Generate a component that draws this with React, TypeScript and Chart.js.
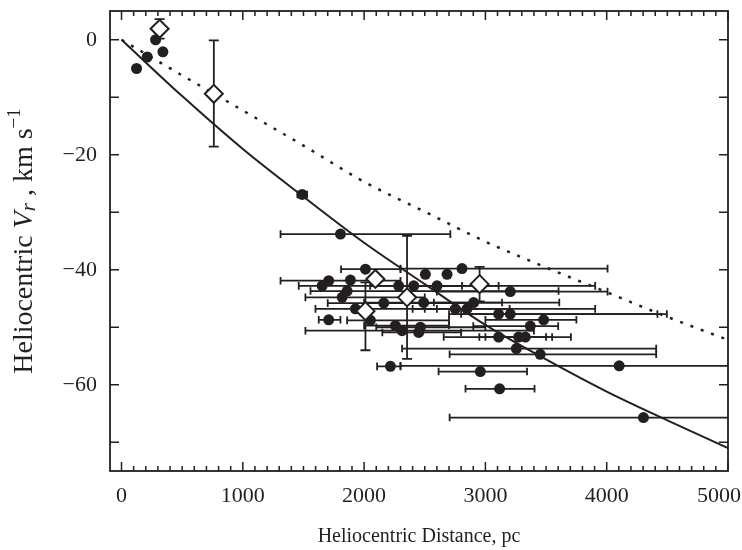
import React, { useEffect, useRef } from 'react';
import { Chart, registerables } from 'chart.js';

Chart.register(...registerables);

const INK = '#231f20';
const FONT = '"Liberation Serif", "Times New Roman", serif';
const FONT_SIZE = 22;
const XTITLE_SIZE = 20;
const YTITLE_SIZE = 28;

// axis ranges and ticks
const X_MIN = -95;
const X_MAX = 5000;
const Y_MIN = -75;
const Y_MAX = 5;
const xTickLabels = [0, 1000, 2000, 3000, 4000, 5000];
const X_MAJOR = 1000;
const X_MINOR = 100;
const yTickValues = [0, -10, -20, -30, -40, -50, -60, -70];
const yLabelled = [0, -20, -40, -60];

// model curves
const modelX = [0, 500, 1000, 1500, 2000, 2500, 3000, 3500, 4000, 4500, 5000];
const solidY = [0, -9.8, -19, -27.3, -35.3, -42.5, -49.6, -55.6, -61.2, -66.2, -71];
const dottedY = [0, -6.2, -12.3, -18.4, -24.7, -29.9, -35.1, -39.6, -43.9, -48.2, -52.2];

// filled circles with horizontal (distance) error bars
const circleX = [124, 212, 281, 341, 1489, 1805, 2011, 2807, 1708, 1887, 2505, 2684, 1654, 2285, 2409, 2601, 3205, 1860, 1819, 2162, 2491, 2903, 1928, 2752, 2848, 3109, 3205, 3480, 1708, 2052, 3370, 2258, 2464, 2313, 2450, 3109, 3274, 3329, 3255, 3452, 2217, 4103, 2958, 3117, 4303];
const circleY = [-5, -3, 0, -2.1, -26.9, -33.8, -39.9, -39.8, -41.9, -41.8, -40.8, -40.8, -42.8, -42.8, -42.8, -42.8, -43.8, -43.7, -44.8, -45.8, -45.7, -45.7, -46.8, -46.8, -46.8, -47.7, -47.7, -48.7, -48.7, -48.8, -49.8, -49.7, -50, -50.6, -50.9, -51.7, -51.7, -51.7, -53.7, -54.7, -56.8, -56.7, -57.7, -60.7, -65.7];
const circleXLo = [null, null, null, null, 1450, 1311, 1810, 2300, 1311, null, null, null, 1461, null, 2050, 2300, 2600, 1558, 1516, 1700, 2000, 2575, 1599, 2400, 2500, 2700, 2800, 3000, 1626, 1860, 2900, 2000, 2100, 1516, 2150, 2656, 2950, 3000, 2313, 2705, 2107, 2300, 2614, 2836, 2705];
const circleXHi = [null, null, null, null, 1530, 2711, 2300, 4007, 2300, null, null, null, 2807, null, 3905, 3109, 4007, 3603, 2500, 2900, 3609, 3137, 2600, 3200, 3905, 4496, 4418, 3750, 1805, 2700, 3600, 2700, 3000, 3400, 2800, 3500, 3705, 3550, 4408, 4408, 2300, 5300, 3343, 3405, 5300];

// open diamonds with vertical (velocity) error bars
const diamondX = [314, 761, 2093, 2354, 2011, 2952];
const diamondY = [1.9, -9.4, -41.6, -44.8, -47.2, -42.5];
const diamondYLo = [0.2, -18.6, null, -55.5, -54, -45.5];
const diamondYHi = [3.6, -0.1, null, -34.1, -42.2, -39.5];

const fmt = (v: number) => (v < 0 ? '\u2212' + Math.abs(v) : String(v));

const errorBarPlugin = {
  id: 'errorBars',
  beforeDatasetsDraw(chart: any) {
    const { ctx, chartArea: a } = chart;
    const xs = chart.scales.x;
    const ys = chart.scales.y;
    ctx.save();
    ctx.beginPath();
    ctx.rect(a.left, a.top, a.right - a.left, a.bottom - a.top);
    ctx.clip();
    ctx.strokeStyle = INK;
    ctx.lineWidth = 1.8;
    const cap = 3.8;
    circleX.forEach((_, i) => {
      const lo = circleXLo[i];
      const hi = circleXHi[i];
      if (lo == null || hi == null) return;
      const py = ys.getPixelForValue(circleY[i]);
      const pa = xs.getPixelForValue(lo);
      const pb = xs.getPixelForValue(hi);
      ctx.beginPath();
      ctx.moveTo(pa, py);
      ctx.lineTo(pb, py);
      ctx.moveTo(pa, py - cap);
      ctx.lineTo(pa, py + cap);
      ctx.moveTo(pb, py - cap);
      ctx.lineTo(pb, py + cap);
      ctx.stroke();
    });
    const vcap = 5;
    diamondX.forEach((dx, i) => {
      const lo = diamondYLo[i];
      const hi = diamondYHi[i];
      if (lo == null || hi == null) return;
      const px = xs.getPixelForValue(dx);
      const pa = ys.getPixelForValue(lo);
      const pb = ys.getPixelForValue(hi);
      ctx.beginPath();
      ctx.moveTo(px, pa);
      ctx.lineTo(px, pb);
      ctx.moveTo(px - vcap, pa);
      ctx.lineTo(px + vcap, pa);
      ctx.moveTo(px - vcap, pb);
      ctx.lineTo(px + vcap, pb);
      ctx.stroke();
    });
    ctx.restore();
  },
};

const decorPlugin = {
  id: 'decor',
  afterDraw(chart: any) {
    const { ctx, chartArea: a } = chart;
    const xs = chart.scales.x;
    const ys = chart.scales.y;
    ctx.save();
    ctx.strokeStyle = INK;
    ctx.lineWidth = 1.8;
    ctx.strokeRect(a.left, a.top, a.right - a.left, a.bottom - a.top);

    ctx.lineWidth = 1.5;
    ctx.beginPath();
    for (let v = 0; v <= X_MAX; v += X_MINOR) {
      const px = xs.getPixelForValue(v);
      if (px < a.left || px > a.right) continue;
      const len = v % X_MAJOR === 0 ? 9 : 5;
      ctx.moveTo(px, a.bottom);
      ctx.lineTo(px, a.bottom - len);
      ctx.moveTo(px, a.top);
      ctx.lineTo(px, a.top + len);
    }
    yTickValues.forEach((v) => {
      const py = ys.getPixelForValue(v);
      ctx.moveTo(a.left, py);
      ctx.lineTo(a.left + 9, py);
      ctx.moveTo(a.right, py);
      ctx.lineTo(a.right - 9, py);
    });
    ctx.stroke();

    // x tick labels
    ctx.fillStyle = INK;
    ctx.font = `${FONT_SIZE}px ${FONT}`;
    ctx.textAlign = 'center';
    ctx.textBaseline = 'middle';
    xTickLabels.forEach((v) => {
      const label = fmt(v);
      const w = ctx.measureText(label).width;
      let px = xs.getPixelForValue(v);
      if (px + w / 2 > chart.width - 1) px = chart.width - 1 - w / 2;
      ctx.fillText(label, px, a.bottom + 25);
    });

    // x title
    ctx.font = `${XTITLE_SIZE}px ${FONT}`;
    ctx.fillText('Heliocentric Distance, pc', (a.left + a.right) / 2, a.bottom + 66);

    // y title (rotated, mixed styles)
    const parts = [
      { t: 'Heliocentric ', f: `${YTITLE_SIZE}px ${FONT}`, dy: 0 },
      { t: 'V', f: `italic ${YTITLE_SIZE}px ${FONT}`, dy: 0 },
      { t: 'r', f: `italic ${YTITLE_SIZE - 7}px ${FONT}`, dy: 4 },
      { t: ' , km s', f: `${YTITLE_SIZE}px ${FONT}`, dy: 0 },
      { t: '\u22121', f: `${YTITLE_SIZE - 9}px ${FONT}`, dy: -10 },
    ];
    let total = 0;
    parts.forEach((p) => {
      ctx.font = p.f;
      total += ctx.measureText(p.t).width;
    });
    ctx.translate(25, 241);
    ctx.rotate(-Math.PI / 2);
    ctx.textAlign = 'left';
    let cx = -total / 2;
    parts.forEach((p) => {
      ctx.font = p.f;
      ctx.fillText(p.t, cx, p.dy);
      cx += ctx.measureText(p.t).width;
    });
    ctx.restore();
  },
};

export default function App() {
  const ref = useRef<HTMLCanvasElement>(null);
  useEffect(() => {
    if (!ref.current) return;
    const chart = new Chart(ref.current, {
      type: 'scatter',
      data: {
        datasets: [
          {
            label: 'diamonds',
            data: diamondX.map((x, i) => ({ x, y: diamondY[i] })),
            pointStyle: 'rectRot',
            pointRadius: 9,
            backgroundColor: '#ffffff',
            borderColor: INK,
            borderWidth: 2,
          },
          {
            label: 'circles',
            data: circleX.map((x, i) => ({ x, y: circleY[i] })),
            pointStyle: 'circle',
            pointRadius: 5.5,
            backgroundColor: INK,
            borderColor: INK,
            borderWidth: 0,
          },
          {
            type: 'line',
            label: 'solid',
            data: modelX.map((x, i) => ({ x, y: solidY[i] })),
            borderColor: INK,
            borderWidth: 2,
            pointRadius: 0,
            cubicInterpolationMode: 'monotone',
            fill: false,
          },
          {
            type: 'line',
            label: 'dotted',
            data: modelX.map((x, i) => ({ x, y: dottedY[i] })),
            borderColor: INK,
            borderWidth: 2.5,
            borderDash: [3, 8],
            pointRadius: 0,
            cubicInterpolationMode: 'monotone',
            fill: false,
          },
        ] as any,
      },
      options: {
        responsive: false,
        animation: false,
        layout: { padding: { left: 0, right: 14, top: 9, bottom: 0 } },
        plugins: { legend: { display: false }, tooltip: { enabled: false } },
        scales: {
          x: {
            type: 'linear',
            min: X_MIN,
            max: X_MAX,
            grid: { display: false, drawTicks: false },
            border: { display: false },
            ticks: { display: false, stepSize: X_MAJOR },
            afterFit: (s: any) => {
              s.height = 79;
              s.paddingLeft = 0;
              s.paddingRight = 0;
            },
          },
          y: {
            type: 'linear',
            min: Y_MIN,
            max: Y_MAX,
            grid: { display: false, drawTicks: false },
            border: { display: false },
            afterBuildTicks: (s: any) => {
              s.ticks = yTickValues.map((v) => ({ value: v }));
            },
            ticks: {
              autoSkip: false,
              padding: 13,
              color: INK,
              font: { family: FONT, size: FONT_SIZE },
              callback: (v: any) => (yLabelled.includes(Number(v)) ? fmt(Number(v)) : ''),
            },
            afterFit: (s: any) => {
              s.width = 110;
              s.paddingTop = 0;
              s.paddingBottom = 0;
            },
          },
        },
      } as any,
      plugins: [errorBarPlugin, decorPlugin],
    });
    return () => chart.destroy();
  }, []);
  return (
    <div style={{ position: 'fixed', left: 0, top: 0, width: 742, height: 550, background: '#fff' }}>
      <canvas ref={ref} width={742} height={550} />
    </div>
  );
}
